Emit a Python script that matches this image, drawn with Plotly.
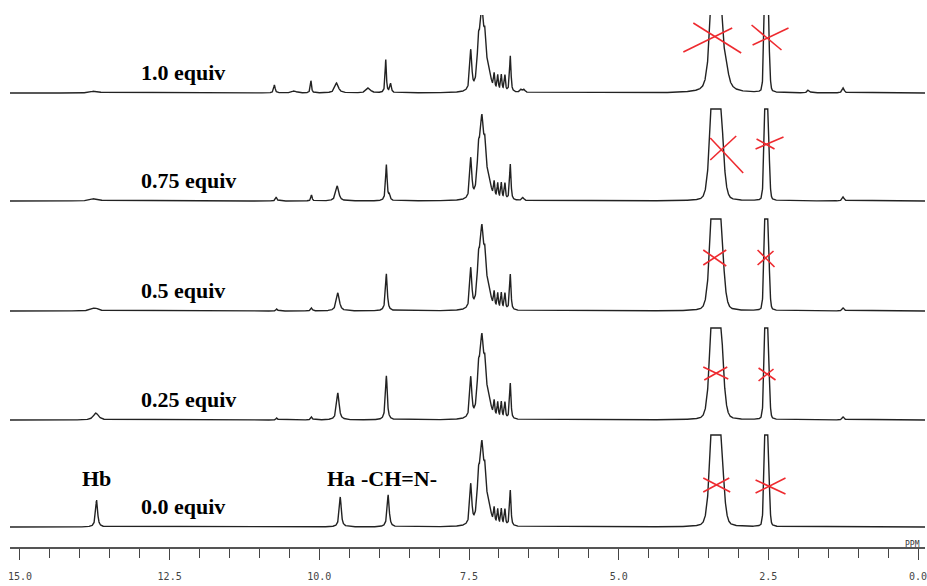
import numpy as np
import plotly.graph_objects as go

# ---------------- data ----------------
EQUIV_LABELS = ["0.0 equiv", "0.25 equiv", "0.5 equiv", "0.75 equiv", "1.0 equiv"]

# peak tuples: (ppm, height, half-width ppm, lorentzian fraction)
SOLVENT = [(3.37, 200, 0.085, 0.12), (2.53, 170, 0.033, 0.10)]
SOLVENT_TOP = [(3.37, 170, 0.088, 0.25), (3.19, 12, 0.05, 1.0), (2.53, 170, 0.033, 0.10)]

AROMATIC = [
    (7.47, 40, 0.020, 0.8), (7.34, 42, 0.028, 0.8), (7.285, 70, 0.032, 0.8),
    (7.23, 45, 0.028, 0.8), (7.16, 14, 0.035, 0.8), (7.08, 15, 0.012, 0.8),
    (7.02, 15, 0.012, 0.8), (6.96, 16, 0.012, 0.8), (6.90, 16, 0.012, 0.8),
    (6.81, 36, 0.014, 0.8),
]

PEAKS_000 = [(13.72, 27, 0.02, 0.9), (9.65, 30, 0.02, 0.9), (8.85, 32, 0.02, 0.9)]
PEAKS_025 = [(13.73, 7, 0.05, 0.9), (10.71, 2, 0.015, 0.9), (10.13, 3, 0.015, 0.9),
             (9.69, 27, 0.025, 0.9), (8.88, 44, 0.018, 0.9), (1.25, 3, 0.02, 0.9)]
PEAKS_050 = [(13.75, 3, 0.07, 0.9), (10.71, 2, 0.015, 0.9), (10.13, 3, 0.015, 0.9),
             (9.69, 18, 0.03, 0.9), (8.88, 37, 0.018, 0.9), (1.25, 3, 0.02, 0.9)]
PEAKS_075 = [(13.75, 2.5, 0.08, 0.9), (10.72, 4, 0.015, 0.9), (10.13, 6, 0.012, 0.9),
             (9.70, 15, 0.03, 0.9), (8.88, 36, 0.015, 0.9), (8.83, 5, 0.015, 0.9),
             (6.60, 3, 0.02, 0.9), (1.25, 4, 0.02, 0.9)]
PEAKS_100 = [(13.75, 2, 0.08, 0.9), (10.75, 8, 0.015, 0.9), (10.42, 2, 0.04, 0.9),
             (10.14, 12, 0.012, 0.9), (9.71, 10, 0.035, 0.9), (9.18, 5, 0.04, 0.9),
             (8.89, 33, 0.012, 0.9), (8.81, 9, 0.015, 0.9), (6.63, 3, 0.02, 0.9),
             (6.58, 3, 0.02, 0.9), (1.83, 3, 0.02, 0.9), (1.25, 5, 0.02, 0.9)]

SPECTRA = [PEAKS_000 + AROMATIC + SOLVENT,
           PEAKS_025 + AROMATIC + SOLVENT,
           PEAKS_050 + AROMATIC + SOLVENT,
           PEAKS_075 + AROMATIC + SOLVENT,
           PEAKS_100 + AROMATIC + SOLVENT_TOP]

PEAK_NAMES = [("Hb", 13.72), ("Ha", 9.63), ("-CH=N-", 8.67)]
TICK_VALUES = [15.0, 12.5, 10.0, 7.5, 5.0, 2.5, 0.0]
TICK_TEXT = ["15.0", "12.5", "10.0", "7.5", "5.0", "2.5", "0.0"]

# ---------------- layout constants ----------------
OFFSETS = [20, 127, 236, 346, 454]   # vertical stacking (px above axis)
CLIP = 92                             # plotter clipping height
WATER_PPM, DMSO_PPM = 3.37, 2.53

# red crossing marks: (spectrum index, peak ppm, [(rx1, ry1, rx2, ry2), ...]) in px rel. to peak/baseline
XMARKS = [
    (4, WATER_PPM, [(-23, 70, 25, 40), (-33, 41, 16, 65)]),
    (4, DMSO_PPM, [(-15, 68, 15, 43), (-14, 48, 22, 65)]),
    (3, WATER_PPM, [(-6, 63, 27, 28), (-6, 41, 20, 65)]),
    (3, DMSO_PPM, [(-11, 52, 17, 64), (-10, 62, 8, 52)]),
    (2, WATER_PPM, [(-13, 61, 10, 45), (-13, 46, 10, 61)]),
    (2, DMSO_PPM, [(-9, 61, 8, 44), (-9, 46, 7, 60)]),
    (1, WATER_PPM, [(-13, 53, 12, 41), (-12, 40, 11, 53)]),
    (1, DMSO_PPM, [(-8, 52, 9, 40), (-8, 39, 7, 51)]),
    (0, WATER_PPM, [(-13, 49, 14, 35), (-13, 35, 13, 49)]),
    (0, DMSO_PPM, [(-11, 47, 19, 33), (-11, 34, 19, 49)]),
]
PX_PER_PPM = 60.0
LABEL_FONT = dict(family="Liberation Serif", size=22, color="black", weight="bold")


def spectrum(x, peaks):
    y = np.zeros_like(x)
    for p0, h, w, eta in peaks:
        d = (x - p0) / w
        y += h * (eta / (1 + d * d) + (1 - eta) * np.exp(-np.log(2) * d * d))
    return y


x = np.arange(-0.12, 15.18, 0.002)
fig = go.Figure()
for i, peaks in enumerate(SPECTRA):
    y = spectrum(x, peaks)
    if i < len(SPECTRA) - 1:
        y = np.minimum(y, CLIP)
    fig.add_trace(go.Scatter(x=x, y=OFFSETS[i] + y, mode="lines",
                             line=dict(color="#222222", width=1.4),
                             hoverinfo="skip", showlegend=False))

shapes = []
for idx, ppm, lines in XMARKS:
    for rx1, ry1, rx2, ry2 in lines:
        shapes.append(dict(type="line", xref="x", yref="y",
                           x0=ppm - rx1 / PX_PER_PPM, y0=OFFSETS[idx] + ry1,
                           x1=ppm - rx2 / PX_PER_PPM, y1=OFFSETS[idx] + ry2,
                           line=dict(color="#ee2a2f", width=1.6)))

annotations = []
for i, lab in enumerate(EQUIV_LABELS):
    annotations.append(dict(x=13.02, y=OFFSETS[i] + 21, xref="x", yref="y", text=lab,
                            showarrow=False, xanchor="left", yanchor="middle",
                            font=LABEL_FONT))
for name, ppm in PEAK_NAMES:
    annotations.append(dict(x=ppm, y=OFFSETS[0] + 49, xref="x", yref="y", text=name,
                            showarrow=False, xanchor="center", yanchor="middle",
                            font=LABEL_FONT))
annotations.append(dict(x=0.25, y=0, xref="x", yref="y", text="PPM", showarrow=False,
                        xanchor="left", yanchor="bottom", yshift=-4,
                        font=dict(family="DejaVu Sans Mono", size=8, color="#333")))

fig.update_layout(width=927, height=586, margin=dict(l=10, r=0, t=15, b=39),
                  paper_bgcolor="white", plot_bgcolor="white", showlegend=False,
                  shapes=shapes, annotations=annotations)
fig.update_xaxes(range=[15.1667, -0.1167], showgrid=False, zeroline=False,
                 showline=True, linecolor="#555", linewidth=2,
                 ticks="outside", tickvals=TICK_VALUES, ticktext=TICK_TEXT,
                 ticklen=11, tickwidth=1.2, tickcolor="#444", ticklabelstandoff=8,
                 ticklabeloverflow="allow",
                 tickfont=dict(family="DejaVu Sans Mono", size=10, color="#444"),
                 minor=dict(dtick=0.5, tick0=0, ticks="outside", ticklen=9,
                            tickcolor="#444", tickwidth=1.2))
fig.update_yaxes(range=[0, 532], visible=False)

fig.write_html("out.html")
